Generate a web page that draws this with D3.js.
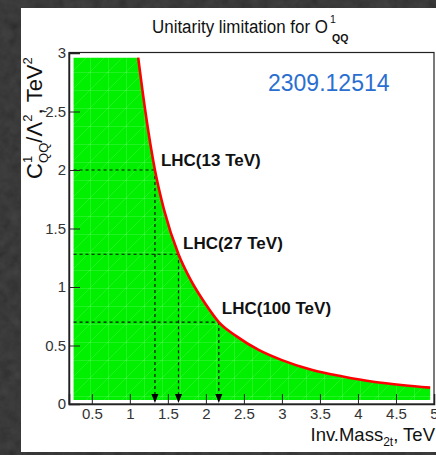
<!DOCTYPE html>
<html>
<head>
<meta charset="utf-8">
<script src="https://cdn.jsdelivr.net/npm/d3@7"></script>
<style>
  html, body { margin: 0; padding: 0; background: #1c1c1c; }
  svg { display: block; }
  text { font-family: "Liberation Sans", Arial, sans-serif; }
</style>
</head>
<body>
<svg id="chart" width="436" height="455"></svg>
<script>
// Unitarity bound on C_QQ^1 / Lambda^2 versus the top-pair invariant mass
const curveMass = [1.11, 1.2, 1.33, 1.45, 1.64, 1.8, 2.0, 2.17, 2.4, 2.7, 3.0, 3.4, 3.8, 4.2, 4.6, 4.95];
const curveCoef = [2.96, 2.52, 2.0, 1.66, 1.28, 1.06, 0.85, 0.70, 0.58, 0.46, 0.375, 0.29, 0.235, 0.19, 0.16, 0.14];

// Collider reach: reference points on the bound
const lhcLabels = ["LHC(13 TeV)", "LHC(27 TeV)", "LHC(100 TeV)"];
const lhcMass = [1.33, 1.64, 2.17];
const lhcCoef = [2.0, 1.28, 0.70];

// Allowed-region extent
const regionMassMin = 0.26;
const regionCoefMin = 0.034;
const regionCoefMax = 2.96;

const xTicks = [0.5, 1, 1.5, 2, 2.5, 3, 3.5, 4, 4.5, 5];
const xTickLabels = ["0.5", "1", "1.5", "2", "2.5", "3", "3.5", "4", "4.5", "5"];
const yTicks = [0, 0.5, 1, 1.5, 2, 2.5, 3];
const yTickLabels = ["0", "0.5", "1", "1.5", "2", "2.5", "3"];

const svg = d3.select("#chart");
const W = 436, H = 455;

// Grainy dark backdrop
const defs = svg.append("defs");
const noise = defs.append("filter").attr("id", "grain").attr("x", 0).attr("y", 0).attr("width", "100%").attr("height", "100%");
noise.append("feTurbulence").attr("type", "fractalNoise").attr("baseFrequency", 0.1).attr("numOctaves", 3).attr("seed", 7);
noise.append("feColorMatrix").attr("type", "matrix")
  .attr("values", "0.33 0.33 0.33 0 0  0.33 0.33 0.33 0 0  0.33 0.33 0.33 0 0  0 0 0 0 1");
svg.append("rect").attr("width", W).attr("height", H).attr("fill", "#151515");
svg.append("rect").attr("width", W).attr("height", H).attr("filter", "url(#grain)").attr("opacity", 0.22);

// White canvas
svg.append("rect").attr("x", 21).attr("y", 8).attr("width", W - 21).attr("height", 444).attr("fill", "#ffffff");

const x = d3.scaleLinear().domain([0.2, 5]).range([69, 434]);
const y = d3.scaleLinear().domain([0, 3]).range([404, 53]);

// Faint grid texture over the fill
const pat = defs.append("pattern").attr("id", "tex").attr("patternUnits", "userSpaceOnUse")
  .attr("width", 18).attr("height", 18);
pat.append("rect").attr("width", 18).attr("height", 18).attr("fill", "#00f000");
pat.append("path").attr("d", "M0.5,0V18M0,0.5H18M0,18L18,0")
  .attr("stroke", "#ffffff").attr("stroke-opacity", 0.13).attr("stroke-width", 1).attr("fill", "none");

const curvePts = curveMass.map((m, i) => [m, curveCoef[i]]);
const last = curvePts[curvePts.length - 1];

// Region: straight edges plus the smooth bound
const smoothPath = d3.line().x(d => x(d[0])).y(d => y(d[1])).curve(d3.curveMonotoneX)(curvePts);
const regionPath = "M" + x(regionMassMin) + "," + y(regionCoefMin) +
  "L" + x(regionMassMin) + "," + y(regionCoefMax) +
  "L" + smoothPath.slice(1) +
  "L" + x(last[0]) + "," + y(regionCoefMin) + "Z";
svg.append("path").attr("d", regionPath).attr("fill", "url(#tex)");

// Dashed guides and arrows
const g = svg.append("g");
lhcMass.forEach((m, i) => {
  g.append("line").attr("x1", x(regionMassMin)).attr("x2", x(m))
    .attr("y1", y(lhcCoef[i])).attr("y2", y(lhcCoef[i]))
    .attr("stroke", "#111").attr("stroke-width", 1.2).attr("stroke-dasharray", "3,3");
  g.append("line").attr("x1", x(m)).attr("x2", x(m))
    .attr("y1", y(lhcCoef[i])).attr("y2", y(0) - 8)
    .attr("stroke", "#111").attr("stroke-width", 1.2).attr("stroke-dasharray", "3,3");
  const tipY = y(0) - 1, ax = x(m);
  g.append("path").attr("d", `M${ax - 3.5},${tipY - 9}L${ax + 3.5},${tipY - 9}L${ax},${tipY}Z`).attr("fill", "#000");
});

// Bound curve
svg.append("path").attr("d", smoothPath).attr("fill", "none")
  .attr("stroke", "#ff0000").attr("stroke-width", 2.6);

// Frame
svg.append("rect").attr("x", 69).attr("y", 52.5).attr("width", 365).attr("height", 351.5)
  .attr("fill", "none").attr("stroke", "#222").attr("stroke-width", 1.2);

// Axes with inward ticks
const xAxis = d3.axisBottom(x).tickValues(xTicks).tickSize(-10).tickPadding(4)
  .tickFormat((d, i) => xTickLabels[i]);
const xg = svg.append("g").attr("transform", "translate(0,404)").call(xAxis);
xg.select(".domain").attr("stroke", "#222").attr("stroke-width", 1.5);
xg.selectAll(".tick line").attr("stroke", "#222");
xg.selectAll(".tick text").attr("font-size", 15).attr("fill", "#333")
  .attr("font-family", "Liberation Sans, Arial, sans-serif");

const yAxis = d3.axisLeft(y).tickValues(yTicks).tickSize(-11).tickPadding(3)
  .tickFormat((d, i) => yTickLabels[i]);
const yg = svg.append("g").attr("transform", "translate(69,0)").call(yAxis);
yg.select(".domain").attr("stroke", "#222").attr("stroke-width", 1.5);
yg.selectAll(".tick line").attr("stroke", "#222");
yg.selectAll(".tick text").attr("font-size", 15).attr("fill", "#333")
  .attr("font-family", "Liberation Sans, Arial, sans-serif");

// Region labels, offset up-right of each reference point
const labelDx = [6, 4.5, 3];
const labelDy = [-4, -5, -8];
lhcLabels.forEach((t, i) => {
  svg.append("text").attr("x", x(lhcMass[i]) + labelDx[i]).attr("y", y(lhcCoef[i]) + labelDy[i])
    .attr("font-size", 17).attr("font-weight", "bold").attr("fill", "#111").text(t);
});

// Title
svg.append("text").attr("x", 152).attr("y", 33).attr("font-size", 18)
  .attr("textLength", 176).attr("lengthAdjust", "spacingAndGlyphs").attr("fill", "#111")
  .text("Unitarity limitation for O");
svg.append("text").attr("x", 330).attr("y", 23).attr("font-size", 10.5).attr("fill", "#111").text("1");
svg.append("text").attr("x", 332).attr("y", 42).attr("font-size", 10.5).attr("font-weight", "bold").attr("fill", "#111").text("QQ");

// arXiv tag
svg.append("text").attr("x", 268).attr("y", 91).attr("font-size", 23).attr("fill", "#2a6fd0")
  .text("2309.12514");

// X-axis title
const xt = svg.append("text").attr("x", 435).attr("y", 441).attr("text-anchor", "end")
  .attr("font-size", 18.5).attr("fill", "#111");
xt.append("tspan").text("Inv.Mass");
xt.append("tspan").attr("font-size", 12).attr("dy", 5).text("2t");
xt.append("tspan").attr("dy", -5).text(", TeV");

// Y-axis title (rotated)
const yt = svg.append("text").attr("transform", "translate(42,179) rotate(-90)").attr("font-size", 22).attr("fill", "#111");
yt.append("tspan").text("C");
yt.append("tspan").attr("font-size", 13).attr("dy", -10).text("1");
yt.append("tspan").attr("font-size", 13).attr("dx", -7).attr("dy", 16).text("QQ");
yt.append("tspan").attr("dy", -6).text("/Λ");
yt.append("tspan").attr("font-size", 13).attr("dy", -10).text("2");
yt.append("tspan").attr("dy", 10).text(", TeV");
yt.append("tspan").attr("font-size", 13).attr("dy", -10).text("2");
svg.append("text").attr("x", 43).attr("y", 115).attr("font-size", 13).attr("fill", "#333").text("-");
</script>
</body>
</html>
